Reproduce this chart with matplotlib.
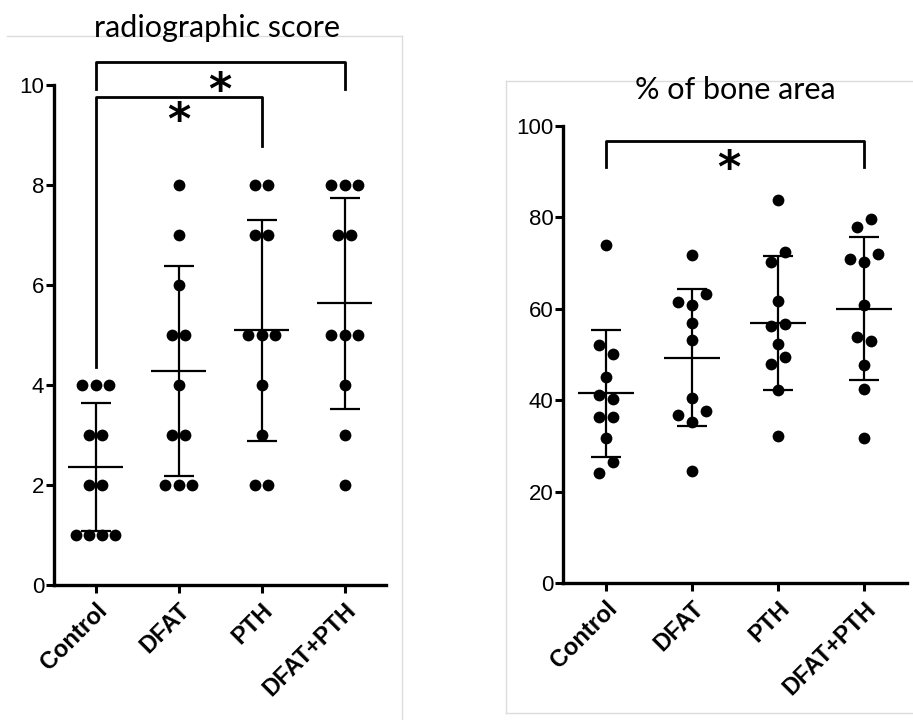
import numpy as np
import matplotlib
matplotlib.use("Agg")
import matplotlib.pyplot as plt
from matplotlib.lines import Line2D

groups = ["Control", "DFAT", "PTH", "DFAT+PTH"]

# radiographic score (11 animals per group)
score_control = [4, 4, 4, 3, 3, 2, 2, 1, 1, 1, 1]
score_dfat = [8, 7, 6, 5, 5, 4, 3, 3, 2, 2, 2]
score_pth = [8, 8, 7, 7, 5, 5, 5, 4, 3, 2, 2]
score_dfat_pth = [8, 8, 8, 7, 7, 5, 5, 5, 4, 3, 2]

# % of bone area; within a cluster of near-equal values the list order is left -> right
bone_control = [73.9, 52.0, 50.0, 45.0, 41.1, 40.3, 36.4, 36.4, 31.7, 24.0, 26.4]
bone_dfat = [71.8, 61.4, 60.8, 63.2, 56.9, 53.1, 40.5, 36.8, 35.3, 37.6, 24.5]
bone_pth = [83.8, 70.2, 72.3, 61.6, 56.3, 56.7, 52.2, 47.9, 49.5, 42.3, 32.2]
bone_dfat_pth = [77.9, 79.7, 70.9, 70.1, 72.0, 60.8, 53.9, 53.0, 47.8, 42.5, 31.7]

score_ticks = [0, 2, 4, 6, 8, 10]
bone_ticks = [0, 20, 40, 60, 80, 100]

plt.rcParams["font.family"] = ["Liberation Sans", "DejaVu Sans"]


def swarm_offsets(vals, gap, step):
    # points closer than `gap` go side by side, centred on the group
    order = sorted(range(len(vals)), key=lambda i: vals[i])
    clusters = []
    for i in order:
        if clusters and vals[i] - vals[clusters[-1][-1]] < gap:
            clusters[-1].append(i)
        else:
            clusters.append([i])
    offs = [0.0] * len(vals)
    for c in clusters:
        c = sorted(c)
        for k, i in enumerate(c):
            offs[i] = (k - (len(c) - 1) / 2) * step
    return offs


def dot_plot(ax, data, gap, ticks):
    for x, vals in enumerate(data):
        offs = swarm_offsets(vals, gap, 0.16)
        ax.scatter(np.array(offs) + x, vals, s=72, color="black", zorder=3, linewidths=0)
        m = np.mean(vals)
        sd = np.std(vals, ddof=1)
        ax.hlines(m, x - 0.33, x + 0.33, color="black", lw=1.6, zorder=2)
        ax.errorbar(x, m, yerr=sd, fmt="none", ecolor="black", elinewidth=1.6,
                    capsize=11, capthick=1.6, zorder=2)
    ax.set_xlim(-0.5, 3.5)
    ax.set_ylim(ticks[0], ticks[-1])
    ax.set_yticks(ticks)
    ax.set_xticks(range(len(groups)))
    ax.set_xticklabels(groups, rotation=45, ha="right", rotation_mode="anchor",
                       fontweight="bold", fontsize=17)
    ax.tick_params(axis="y", labelsize=16, length=6, width=2.2, pad=1)
    ax.tick_params(axis="x", length=6, width=2.2, pad=4)
    for s in ["top", "right"]:
        ax.spines[s].set_visible(False)
    for s in ["left", "bottom"]:
        ax.spines[s].set_linewidth(2.4)


fig = plt.figure(figsize=(9.13, 7.2), dpi=100)

# light panel frames from the original figure
grey = "#dcdcdc"
for xs, ys in [([7, 402], [36, 36]), ([402, 402], [36, 720]),
               ([506, 913], [81, 81]), ([506, 506], [81, 713]), ([506, 913], [713, 713])]:
    fig.add_artist(Line2D(np.array(xs) / 913, 1 - np.array(ys) / 720, color=grey, lw=1))

ax1 = fig.add_axes([54 / 913, 1 - 585 / 720, 332 / 913, 500 / 720])
dot_plot(ax1, [score_control, score_dfat, score_pth, score_dfat_pth], 0.5, score_ticks)
ax1.plot([0, 0, 3, 3], [9.92, 10.46, 10.46, 9.92], color="black", lw=2, clip_on=False)
ax1.plot([0, 0, 2, 2], [4.37, 9.77, 9.77, 8.79], color="black", lw=2, clip_on=False)
ax1.text(1.5, 9.88, "*", ha="center", va="center", fontsize=32, fontweight="bold",
         family="DejaVu Sans", clip_on=False)
ax1.text(1.0, 9.28, "*", ha="center", va="center", fontsize=32, fontweight="bold",
         family="DejaVu Sans", clip_on=False)

ax2 = fig.add_axes([563 / 913, 1 - 583.3 / 720, 344 / 913, 457.7 / 720])
dot_plot(ax2, [bone_control, bone_dfat, bone_pth, bone_dfat_pth], 2.55, bone_ticks)
ax2.plot([0, 0, 3, 3], [90.9, 96.7, 96.7, 90.9], color="black", lw=2, clip_on=False)
ax2.text(1.43, 90.5, "*", ha="center", va="center", fontsize=32, fontweight="bold",
         family="DejaVu Sans", clip_on=False)

fig.text(217 / 913, 1 - 28 / 720, "radiographic score", ha="center", va="center",
         fontsize=22, family=["Lato", "DejaVu Sans"])
fig.text(735 / 913, 1 - 90 / 720, "% of bone area", ha="center", va="center",
         fontsize=22, family=["Lato", "DejaVu Sans"])

fig.savefig("out.png", dpi=100)
